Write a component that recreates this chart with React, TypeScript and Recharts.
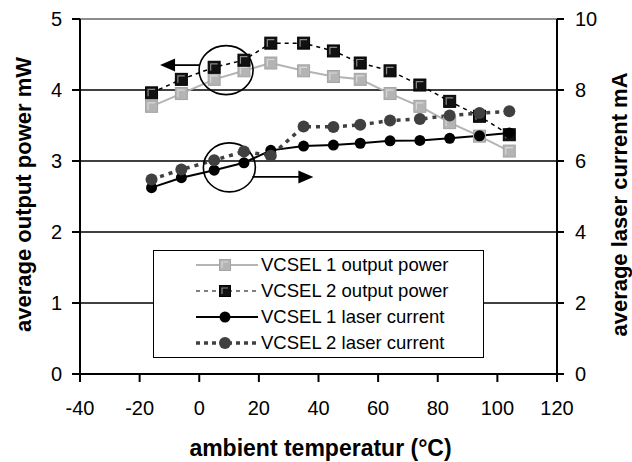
import React from 'react';
import { LineChart, Line, XAxis, YAxis, CartesianGrid, ReferenceLine, ReferenceDot, Legend, Label } from 'recharts';

// ambient temperature in °C
const temps = [-16, -6, 5, 15, 24, 35, 45, 54, 64, 74, 84, 94, 104];
// output power, mW (left axis)
const vcsel1Power = [3.77, 3.95, 4.15, 4.27, 4.38, 4.27, 4.19, 4.15, 3.95, 3.77, 3.54, 3.35, 3.14];
const vcsel2Power = [3.96, 4.15, 4.32, 4.42, 4.66, 4.66, 4.55, 4.38, 4.27, 4.07, 3.84, 3.63, 3.37];
// laser current, mA (right axis)
const vcsel1Current = [5.25, 5.53, 5.74, 5.95, 6.3, 6.42, 6.45, 6.5, 6.57, 6.58, 6.64, 6.71, 6.79];
const vcsel2Current = [5.48, 5.76, 6.02, 6.27, 6.15, 6.97, 6.96, 7.02, 7.14, 7.18, 7.28, 7.35, 7.4];

const xTicks = [-40, -20, 0, 20, 40, 60, 80, 100, 120];
const leftTicks = [0, 1, 2, 3, 4, 5];
const rightTicks = [0, 2, 4, 6, 8, 10];

const seriesNames = ['VCSEL 1 output power', 'VCSEL 2 output power', 'VCSEL 1 laser current', 'VCSEL 2 laser current'];

const data = temps.map((t, i) => ({
  t,
  p1: vcsel1Power[i],
  p2: vcsel2Power[i],
  c1: vcsel1Current[i],
  c2: vcsel2Current[i],
}));

const FONT = "'Liberation Sans', Arial, sans-serif";

// Excel-ish bevelled square marker
function Square({ cx, cy, fill, stroke, hi, size = 12 }: any) {
  const h = size / 2;
  return (
    <g>
      <rect x={cx - h} y={cy - h} width={size} height={size} fill={fill} stroke={stroke} strokeWidth={1} />
      <path d={`M${cx - h + 2.5},${cy + h - 2.5} L${cx - h + 2.5},${cy - h + 2.5} L${cx + h - 2.5},${cy - h + 2.5}`} stroke={hi} strokeWidth={1.2} fill="none" />
    </g>
  );
}

const squareDot = (fill: string, stroke: string, hi: string, name: string) => (props: any) => {
  const { cx, cy, index } = props;
  if (cx == null || cy == null) return <g key={`${name}-${index}`} />;
  return <g key={`${name}-${index}`}><Square cx={cx} cy={cy} fill={fill} stroke={stroke} hi={hi} /></g>;
};

const circleDot = (fill: string, r: number, name: string) => (props: any) => {
  const { cx, cy, index } = props;
  if (cx == null || cy == null) return <g key={`${name}-${index}`} />;
  return <circle key={`${name}-${index}`} cx={cx} cy={cy} r={r} fill={fill} />;
};

// circled group with arrow pointing to its axis
function Callout({ cx, cy, dir }: any) {
  if (cx == null || cy == null) return null;
  if (dir === 'left') {
    const y = cy - 5;
    return (
      <g>
        <ellipse cx={cx} cy={cy} rx={27} ry={24.5} fill="none" stroke="#000" strokeWidth={1.6} />
        <line x1={cx - 27} y1={y} x2={cx - 52} y2={y} stroke="#000" strokeWidth={1.8} />
        <polygon points={`${cx - 66},${y} ${cx - 51},${y - 6.5} ${cx - 51},${y + 6.5}`} fill="#000" />
      </g>
    );
  }
  const y = cy + 9.5;
  return (
    <g>
      <ellipse cx={cx} cy={cy} rx={26} ry={24.5} fill="none" stroke="#000" strokeWidth={1.6} />
      <line x1={cx + 23} y1={y} x2={cx + 71} y2={y} stroke="#000" strokeWidth={1.8} />
      <polygon points={`${cx + 84},${y} ${cx + 69},${y - 6.5} ${cx + 69},${y + 6.5}`} fill="#000" />
    </g>
  );
}

function LegendSample({ kind }: { kind: number }) {
  const y = 13;
  return (
    <svg width={107} height={26} style={{ display: 'block' }}>
      {kind === 0 && <line x1={42} y1={y} x2={104} y2={y} stroke="#b4b4b4" strokeWidth={2} />}
      {kind === 1 && <line x1={42} y1={y} x2={104} y2={y} stroke="#000" strokeWidth={1.2} strokeDasharray="4 4" />}
      {kind === 2 && <line x1={42} y1={y} x2={104} y2={y} stroke="#000" strokeWidth={2} />}
      {kind === 3 && <line x1={42} y1={y} x2={104} y2={y} stroke="#404040" strokeWidth={3.5} strokeDasharray="4 4" />}
      {kind === 0 && <Square cx={71} cy={y} fill="#b4b4b4" stroke="#a4a4a4" hi="#d8d8d8" size={11} />}
      {kind === 1 && <Square cx={71} cy={y} fill="#111" stroke="#000" hi="#8a8a8a" size={11} />}
      {kind === 2 && <circle cx={71} cy={y} r={5.5} fill="#000" />}
      {kind === 3 && <circle cx={71} cy={y} r={6} fill="#404040" />}
    </svg>
  );
}

function LegendBox() {
  return (
    <div style={{ width: 331, height: 108, boxSizing: 'border-box', border: '1.5px solid #000', background: '#fff', paddingTop: 1 }}>
      {seriesNames.map((n, i) => (
        <div key={n} style={{ display: 'flex', alignItems: 'center', height: 26 }}>
          <LegendSample kind={i} />
          <span style={{ fontFamily: FONT, fontSize: 18.5, color: '#000', whiteSpace: 'nowrap' }}>{n}</span>
        </div>
      ))}
    </div>
  );
}

const tickStyle = { fontSize: 20, fill: '#000', fontFamily: FONT };

export default function App() {
  return (
    <div style={{ width: 632, height: 462, background: '#fff' }}>
      <style>{'body{margin:0}'}</style>
      <LineChart width={632} height={462} data={data} margin={{ top: 19, right: 0, bottom: 0, left: 0 }}>
        <CartesianGrid yAxisId="left" vertical={false} stroke="#000" strokeWidth={1.5} horizontalValues={[1, 2, 3, 4]} />
        <XAxis
          dataKey="t"
          type="number"
          domain={[-40, 120]}
          ticks={xTicks}
          height={88}
          tick={tickStyle}
          tickSize={8}
          tickMargin={19}
          stroke="#000"
          strokeWidth={2}
        >
          <Label
            content={(p: any) => {
              const vb = p.viewBox || { x: 80, width: 477 };
              return (
                <text x={vb.x + vb.width / 2 + 2} y={456} textAnchor="middle" fontFamily={FONT} fontSize={23} fontWeight="bold" fill="#000">
                  ambient temperatur (°C)
                </text>
              );
            }}
          />
        </XAxis>
        <YAxis
          yAxisId="left"
          domain={[0, 5]}
          ticks={leftTicks}
          width={80}
          tick={tickStyle}
          tickSize={8}
          tickMargin={10}
          stroke="#000"
          strokeWidth={2}
        >
          <Label
            content={(p: any) => {
              const vb = p.viewBox || { y: 19, height: 355 };
              const y = vb.y + vb.height / 2 - 2;
              return (
                <text x={23} y={y} transform={`rotate(-90 23 ${y})`} textAnchor="middle" dominantBaseline="central" fontFamily={FONT} fontSize={22} fontWeight="bold" fill="#000">
                  average output power mW
                </text>
              );
            }}
          />
        </YAxis>
        <YAxis
          yAxisId="right"
          orientation="right"
          domain={[0, 10]}
          ticks={rightTicks}
          width={75}
          tick={tickStyle}
          tickSize={7}
          tickMargin={11}
          stroke="#000"
          strokeWidth={2}
        >
          <Label
            content={(p: any) => {
              const vb = p.viewBox || { y: 19, height: 355 };
              const y = vb.y + vb.height / 2 + 8;
              return (
                <text x={619} y={y} transform={`rotate(-90 619 ${y})`} textAnchor="middle" dominantBaseline="central" fontFamily={FONT} fontSize={22} fontWeight="bold" fill="#000">
                  average laser current mA
                </text>
              );
            }}
          />
        </YAxis>
        <ReferenceLine yAxisId="left" y={5} stroke="#8c8c8c" strokeWidth={2} />
        <Line
          yAxisId="left"
          dataKey="p1"
          name={seriesNames[0]}
          stroke="#b4b4b4"
          strokeWidth={2}
          dot={squareDot('#b4b4b4', '#a4a4a4', '#d8d8d8', 'p1')}
          activeDot={false}
          isAnimationActive={false}
        />
        <Line
          yAxisId="left"
          dataKey="p2"
          name={seriesNames[1]}
          stroke="#000"
          strokeWidth={1.5}
          strokeDasharray="4 4"
          dot={squareDot('#111', '#000', '#8a8a8a', 'p2')}
          activeDot={false}
          isAnimationActive={false}
        />
        <Line
          yAxisId="right"
          dataKey="c1"
          name={seriesNames[2]}
          stroke="#000"
          strokeWidth={2}
          dot={circleDot('#000', 5.5, 'c1')}
          activeDot={false}
          isAnimationActive={false}
        />
        <Line
          yAxisId="right"
          dataKey="c2"
          name={seriesNames[3]}
          stroke="#404040"
          strokeWidth={3.5}
          strokeDasharray="4 5"
          dot={circleDot('#404040', 6, 'c2')}
          activeDot={false}
          isAnimationActive={false}
        />
        <ReferenceDot yAxisId="left" x={9} y={4.28} r={0} shape={(p: any) => <Callout {...p} dir="left" />} />
        <ReferenceDot yAxisId="left" x={10.1} y={2.91} r={0} shape={(p: any) => <Callout {...p} dir="right" />} />
        <Legend
          layout="horizontal"
          verticalAlign="middle"
          align="center"
          content={() => <LegendBox />}
          wrapperStyle={{ position: 'absolute', left: 153, top: 250, width: 331, height: 108 }}
        />
      </LineChart>
    </div>
  );
}
